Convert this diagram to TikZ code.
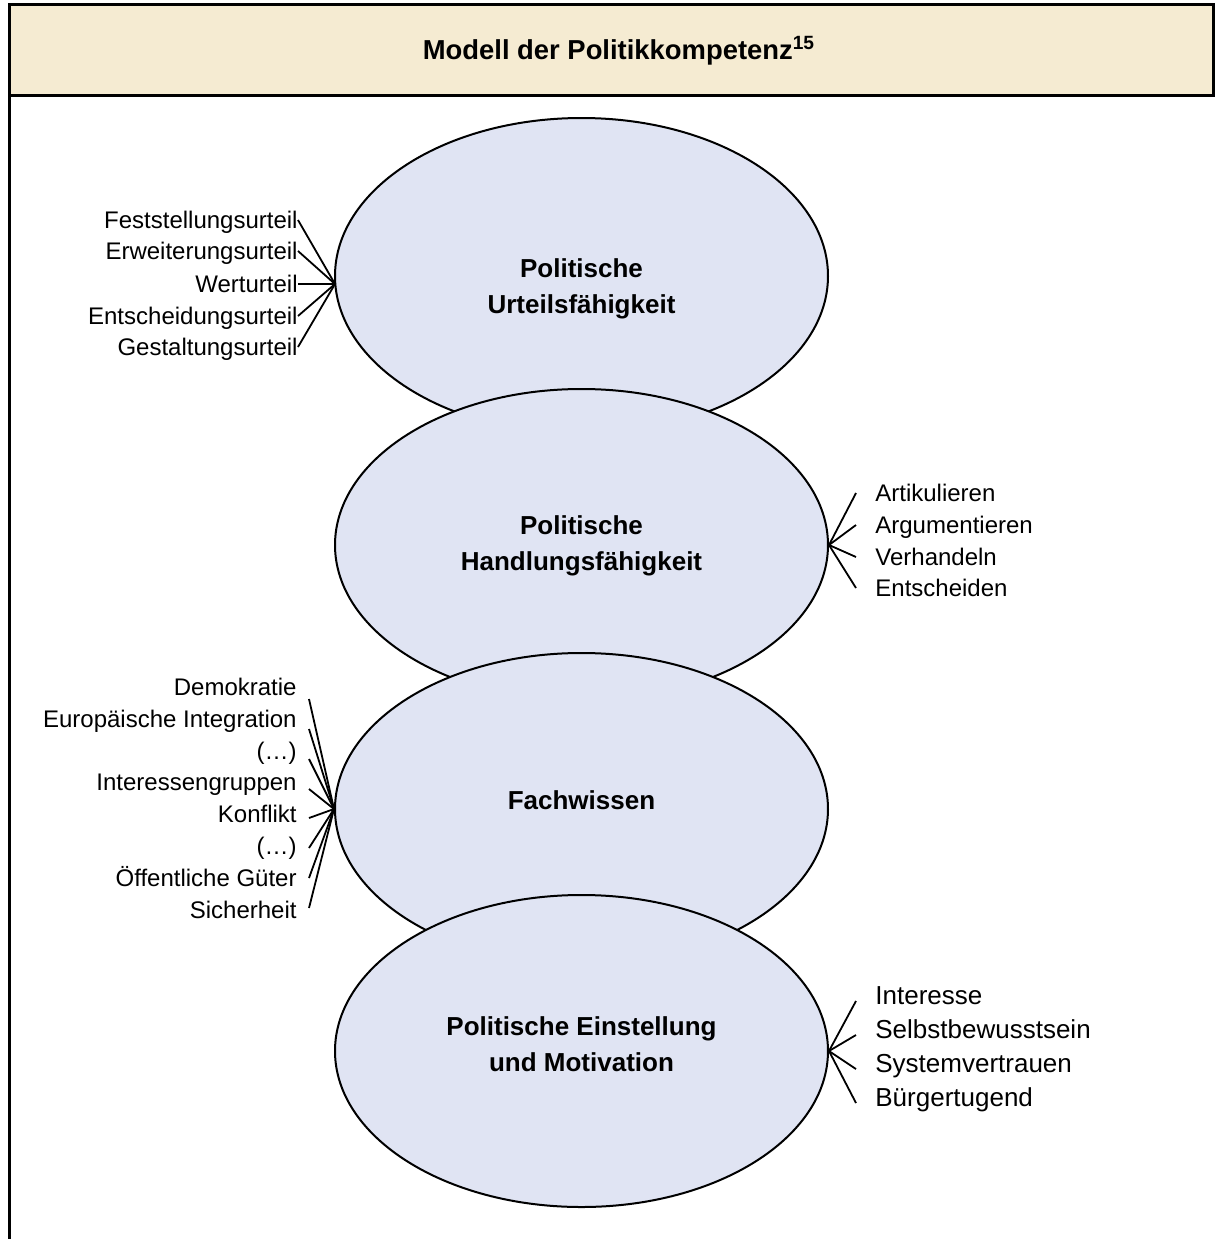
\documentclass[tikz,border=0pt]{standalone}
\usepackage{fontspec}
\setmainfont{Liberation Sans}
\usetikzlibrary{shapes.geometric}

\definecolor{titelfarbe}{RGB}{245,235,210}
\definecolor{ellipsenfarbe}{RGB}{224,228,243}

\begin{document}
\begin{tikzpicture}[x=0.5pt, y=-0.5pt,
    kompetenz/.style={ellipse, draw, line width=1pt, fill=ellipsenfarbe,
        minimum width=246.5pt, minimum height=156pt, inner sep=0pt},
    kompetenztext/.style={align=center, inner sep=0pt,
        font=\fontsize{13}{18}\selectfont\bfseries},
    stichwort/.style={inner sep=0pt, text height=8.6pt, text depth=0pt,
        font=\fontsize{12}{14}\selectfont},
    stichwortgross/.style={stichwort, text height=9.3pt,
        font=\fontsize{13}{15}\selectfont},
    strich/.style={line width=0.9pt}]

\useasboundingbox (0,0) rectangle (1215,1239);

% Rahmen und Titel
\draw [line width=1.5pt, fill=titelfarbe] (9,4) rectangle (1213,95);
\coordinate (rahmenoben) at (9,95);
\coordinate (rahmenunten) at (9,1239);
\draw [line width=1.5pt] (rahmenoben) -- (rahmenunten);
\node (titel) at (619,51) {\fontsize{13.7}{16}\selectfont\bfseries Modell der Politikkompetenz\textsuperscript{15}};

% Ellipsen
\node [kompetenz, minimum height=158pt] (urteil) at (581.5,276) {};
\node [kompetenztext] (urteiltext) at (581.5,289) {Politische\\Urteilsfähigkeit};
\node [kompetenz] (handlung) at (581.5,545) {};
\node [kompetenztext] (handlungtext) at (581.5,546) {Politische\\Handlungsfähigkeit};
\node [kompetenz] (wissen) at (581.5,809) {};
\node [kompetenztext] (wissentext) at (581.5,800) {Fachwissen};
\node [kompetenz] (einstellung) at (581.5,1051) {};
\node [kompetenztext] (einstellungtext) at (581.5,1044) {Politische Einstellung\\und Motivation};

% Urteilsfaehigkeit
\node [stichwort, anchor=east] (feststellung) at (298,220) {Feststellungsurteil};
\node [stichwort, anchor=east] (erweiterung) at (298,251) {Erweiterungsurteil};
\node [stichwort, anchor=east] (wert) at (298,284) {Werturteil};
\node [stichwort, anchor=east] (entscheidung) at (298,316) {Entscheidungsurteil};
\node [stichwort, anchor=east] (gestaltung) at (298,347) {Gestaltungsurteil};

\coordinate (urteilspitze) at (335,284);
\draw [strich] (feststellung.east) -- (urteilspitze);
\draw [strich] (erweiterung.east) -- (urteilspitze);
\draw [strich] (wert.east) -- (urteilspitze);
\draw [strich] (entscheidung.east) -- (urteilspitze);
\draw [strich] (gestaltung.east) -- (urteilspitze);

% Handlungsfaehigkeit
\node [stichwort, anchor=west] (artikulieren) at (875,493) {Artikulieren};
\node [stichwort, anchor=west] (argumentieren) at (875,525) {Argumentieren};
\node [stichwort, anchor=west] (verhandeln) at (875,557) {Verhandeln};
\node [stichwort, anchor=west] (entscheiden) at (875,588) {Entscheiden};

\draw [strich] ([xshift=-9.5pt]artikulieren.west) -- (handlung.east);
\draw [strich] ([xshift=-9.5pt]argumentieren.west) -- (handlung.east);
\draw [strich] ([xshift=-9.5pt]verhandeln.west) -- (handlung.east);
\draw [strich] ([xshift=-9.5pt]entscheiden.west) -- (handlung.east);

% Fachwissen
\node [stichwort, anchor=east] (demokratie) at (297,687) {Demokratie};
\node [stichwort, anchor=east] (europa) at (297,719) {Europäische Integration};
\node [stichwort, anchor=east] (punkteA) at (297,751) {(…)};
\node [stichwort, anchor=east] (gruppen) at (297,782) {Interessengruppen};
\node [stichwort, anchor=east] (konflikt) at (297,814) {Konflikt};
\node [stichwort, anchor=east] (punkteB) at (297,846) {(…)};
\node [stichwort, anchor=east] (gueter) at (297,878) {Öffentliche Güter};
\node [stichwort, anchor=east] (sicherheit) at (297,910) {Sicherheit};

\coordinate (wA) at (309,699);
\coordinate (wB) at (309,729);
\coordinate (wC) at (309,759);
\coordinate (wD) at (309,789);
\coordinate (wE) at (309,818);
\coordinate (wF) at (309,848);
\coordinate (wG) at (309,878);
\coordinate (wH) at (309,908);

\draw [strich] (wA) -- (wissen.west);
\draw [strich] (wB) -- (wissen.west);
\draw [strich] (wC) -- (wissen.west);
\draw [strich] (wD) -- (wissen.west);
\draw [strich] (wE) -- (wissen.west);
\draw [strich] (wF) -- (wissen.west);
\draw [strich] (wG) -- (wissen.west);
\draw [strich] (wH) -- (wissen.west);

% Einstellung und Motivation
\node [stichwortgross, anchor=west] (interesse) at (875,995) {Interesse};
\node [stichwortgross, anchor=west] (selbst) at (875,1029) {Selbstbewusstsein};
\node [stichwortgross, anchor=west] (vertrauen) at (875,1063) {Systemvertrauen};
\node [stichwortgross, anchor=west] (tugend) at (875,1097) {Bürgertugend};

\draw [strich] ([xshift=-9.5pt,yshift=-3pt]interesse.west) -- (einstellung.east);
\draw [strich] ([xshift=-9.5pt,yshift=-3pt]selbst.west) -- (einstellung.east);
\draw [strich] ([xshift=-9.5pt,yshift=-3pt]vertrauen.west) -- (einstellung.east);
\draw [strich] ([xshift=-9.5pt,yshift=-3pt]tugend.west) -- (einstellung.east);

\end{tikzpicture}
\end{document}
